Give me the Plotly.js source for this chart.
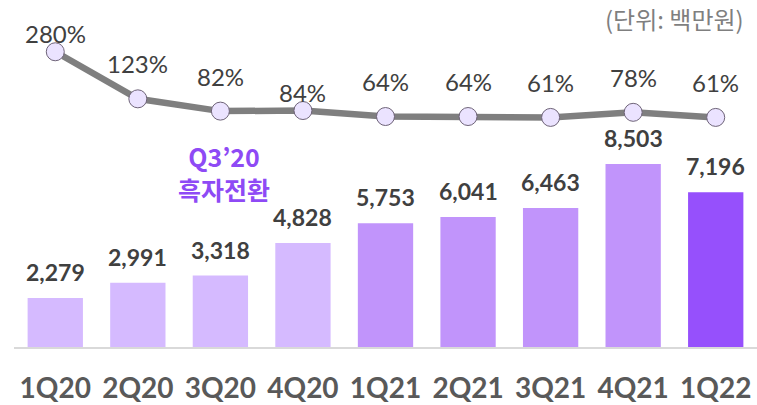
<!DOCTYPE html>
<html><head><meta charset="utf-8">
<script src="https://cdn.plot.ly/plotly-3.0.1.min.js"></script>
<style>html,body{margin:0;padding:0;background:#fff}#c{width:757px;height:405px}</style>
</head><body><div id="c"></div>
<script>
const quarters = ['1Q20','2Q20','3Q20','4Q20','1Q21','2Q21','3Q21','4Q21','1Q22'];
const revenue = [2279, 2991, 3318, 4828, 5753, 6041, 6463, 8503, 7196];
const ratio = [280, 123, 82, 84, 64, 64, 61, 78, 61];
const barColors = ['#D5BAFF','#D5BAFF','#D5BAFF','#D5BAFF','#C194FB','#C194FB','#C194FB','#C194FB','#9650FC'];
const ratioLabelShift = [18, 35, 35, 18, 35, 35, 35, 35, 35];

const fmt = v => v.toLocaleString('en-US');
const annotations = [];
quarters.forEach((q, i) => {
  annotations.push({x: q, y: revenue[i], xref: 'x', yref: 'y', text: fmt(revenue[i]),
    showarrow: false, yanchor: 'middle', yshift: 26,
    font: {family: 'Lato', size: 23, color: '#404040', weight: 'bold'}});
  annotations.push({x: q, y: ratio[i], xref: 'x', yref: 'y2', text: ratio[i] + '%',
    showarrow: false, yanchor: 'middle', yshift: ratioLabelShift[i],
    font: {family: 'Lato', size: 24, color: '#404040'}});
});
annotations.push({x: '3Q20', y: 0.503, xref: 'x', yref: 'paper', text: '<b>Q3’20</b><br><b>흑자전환</b>',
  showarrow: false, xshift: 4, yanchor: 'middle',
  font: {family: 'Noto Sans CJK KR', size: 25, color: '#8E4AF5'}});
annotations.push({x: 0.985, y: 0.948, xref: 'paper', yref: 'paper', xanchor: 'right', yanchor: 'middle',
  text: '(단위: 백만원)', showarrow: false,
  font: {family: 'Noto Sans CJK KR', size: 24, color: '#7F7F7F'}});

const data = [
  {type: 'bar', x: quarters, y: revenue, marker: {color: barColors}, hoverinfo: 'none', yaxis: 'y'},
  {type: 'scatter', mode: 'lines+markers', x: quarters, y: ratio, yaxis: 'y2',
   line: {color: '#7F7F7F', width: 6.5},
   marker: {size: 18, color: '#EBE3FF', line: {color: '#6E6378', width: 1}}, hoverinfo: 'none'}
];
const layout = {
  width: 757, height: 405,
  margin: {l: 14, r: 0, t: 0, b: 58},
  paper_bgcolor: '#fff', plot_bgcolor: '#fff',
  showlegend: false, bargap: 0.33,
  xaxis: {type: 'category', range: [-0.5, 8.5], automargin: false, showgrid: false, zeroline: false, showline: true, linecolor: '#D9D9D9', linewidth: 2,
    ticks: '', ticklabelstandoff: 15,
    tickfont: {family: 'Lato', size: 28, color: '#595959', weight: 'bold'}},
  yaxis: {range: [0, 16125], automargin: false, visible: false, showgrid: false, zeroline: false},
  yaxis2: {range: [-704.9, 452.7], automargin: false, overlaying: 'y', visible: false, showgrid: false, zeroline: false},
  annotations: annotations
};
Plotly.newPlot('c', data, layout, {staticPlot: true, displayModeBar: false});
</script></body></html>
